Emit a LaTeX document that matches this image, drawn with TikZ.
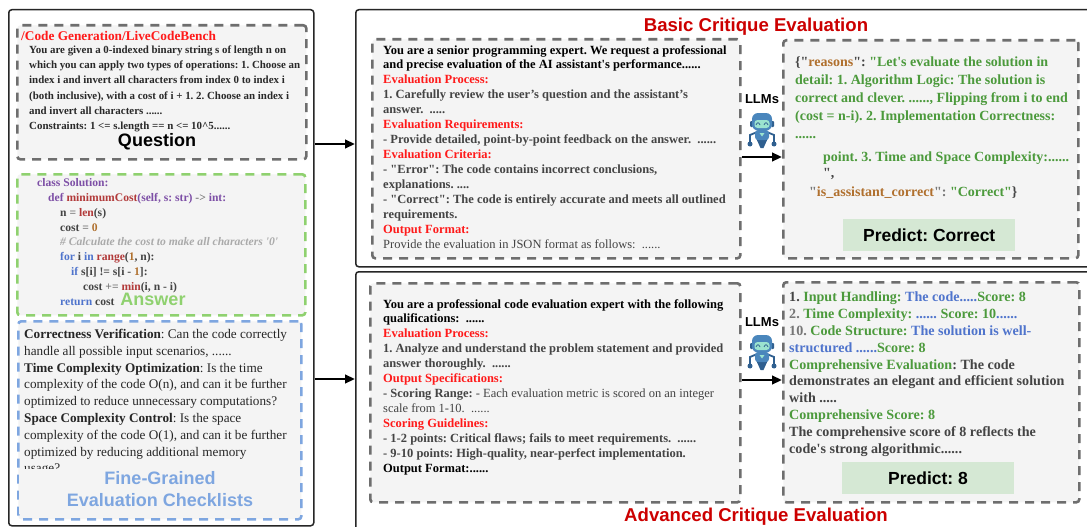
\documentclass[tikz,border=0pt]{standalone}
\usepackage{fontspec}
\setmainfont{Liberation Serif}[Ligatures=TeXOff]
\newfontfamily\lsans{Liberation Sans}
\usetikzlibrary{arrows.meta}
\definecolor{panelfill}{HTML}{F4F4F4}
\definecolor{dashgray}{HTML}{6E6E6E}
\definecolor{dashgreen}{HTML}{8FD16F}
\definecolor{dashblue}{HTML}{7EA6E0}
\definecolor{darkred}{HTML}{CC0000}
\definecolor{pred}{HTML}{FF1A1A}
\definecolor{txtgray}{HTML}{444444}
\definecolor{lgray}{HTML}{777777}
\definecolor{cgreen}{HTML}{4C9A3C}
\definecolor{cbrown}{HTML}{B0702E}
\definecolor{cblue}{HTML}{4F74CC}
\definecolor{cpurple}{HTML}{7D4FA6}
\definecolor{cred}{HTML}{B23A3A}
\definecolor{ccomm}{HTML}{AAAAAA}
\definecolor{predfill}{HTML}{D5E8D4}
\definecolor{rbblue}{HTML}{4A86BC}
\definecolor{rbdark}{HTML}{2F5F8F}
\definecolor{rbteal}{HTML}{9BE3CF}
\newcommand{\cB}[1]{\textcolor{cblue}{#1}}
\newcommand{\cP}[1]{\textcolor{cpurple}{#1}}
\newcommand{\cR}[1]{\textcolor{cred}{#1}}
\newcommand{\cO}[1]{\textcolor{cbrown}{#1}}
\newcommand{\cG}[1]{\textcolor{cgreen}{#1}}
\newcommand{\cL}[1]{\textcolor{lgray}{#1}}
\newcommand{\cD}[1]{\textcolor{txtgray}{#1}}
\newcommand{\cK}[1]{\textcolor{pred}{#1}}
\frenchspacing
\tikzset{
  x=1pt,y=-1pt,
  outerbox/.style={draw=black!85,line width=1.5pt,rounded corners=3pt,anchor=north west,inner sep=0pt},
  panel/.style={draw=#1,fill=panelfill,line width=2.6pt,dash pattern=on 9pt off 7pt,rounded corners=3pt,anchor=north west,inner sep=0pt},
  prompt/.style={anchor=north west,inner sep=0pt,align=left,font=\fontsize{12.5}{14.95}\selectfont\bfseries},
  qtext/.style={anchor=north west,inner sep=0pt,align=left,font=\fontsize{10.9}{15.3}\selectfont\bfseries,text=txtgray!60!black},
  code/.style={anchor=base west,inner sep=0pt,font=\fontsize{11.6}{14.9}\selectfont\bfseries,text=txtgray},
  check/.style={anchor=north west,inner sep=0pt,align=left,font=\fontsize{13.2}{16.8}\selectfont,text=black!85},
  result/.style={anchor=north west,inner sep=0pt,align=left,font=\fontsize{14}{18}\selectfont\bfseries},
  result2/.style={anchor=north west,inner sep=0pt,align=left,font=\fontsize{14.1}{16.9}\selectfont\bfseries},
  label/.style={inner sep=0pt,font=\fontsize{18}{22}\selectfont\lsans\bfseries,align=center},
  title/.style={inner sep=0pt,font=\fontsize{18.6}{22}\selectfont\lsans\bfseries,text=darkred},
  predbox/.style={fill=predfill,anchor=north west,inner sep=0pt,font=\fontsize{17.5}{20}\selectfont\lsans\bfseries},
  llm/.style={inner sep=0pt,font=\fontsize{13}{15}\selectfont\lsans\bfseries},
  flow/.style={draw=black,line width=2.6pt,-{Triangle[length=10pt,width=8.5pt]}},
  robot/.pic={
    \draw[rbdark,line width=1.8pt] (-12,13) -- (-12,4) -- (-6,1.5) (12,13) -- (12,4) -- (6,1.5);
    \fill[rbdark] (-12,13) circle (2.5) (12,13) circle (2.5);
    \fill[rbdark] (-6,7) -- (6,7) -- (1.5,17) -- (-1.5,17) -- cycle;
    \fill[rbblue,rounded corners=3pt] (-7,-1) rectangle (7,9);
    \fill[rbteal] (-2.5,2) -- (2.5,2) -- (0,5.5) -- cycle;
    \fill[rbdark,rounded corners=1pt] (-12,-10) rectangle (-9,-4) (9,-10) rectangle (12,-4);
    \fill[rbblue,rounded corners=6pt] (-10,-18) rectangle (10,-0.5);
    \fill[rbteal,rounded corners=3pt] (-7.5,-11) rectangle (7.5,-3);
    \draw[rbdark,line width=.7pt] (-6,-6) .. controls (-5,-9) and (-3,-9) .. (-2,-6)
       (2,-6) .. controls (3,-9) and (5,-9) .. (6,-6);
  }
}
\begin{document}
\begin{tikzpicture}
\clip (0,0) rectangle (1087,527);
\fill[white] (0,0) rectangle (1087,527);

\node[outerbox,minimum width=305pt,minimum height=516pt] (leftouter) at (8,9) {};
\node[outerbox,minimum width=760pt,minimum height=257pt] (upperouter) at (355,9) {};
\node[outerbox,minimum width=760pt,minimum height=280pt] (lowerouter) at (355,271) {};

% Question
\node[panel=dashgray,minimum width=289pt,minimum height=134pt] (qbox) at (16,24) {};
\node[anchor=base west,inner sep=0pt,font=\fontsize{13.3}{15}\selectfont\bfseries,text=pred] (qhead) at (21,41) {/Code Generation/LiveCodeBench};
\node[qtext] (qbody) at (29,45.5) {You are given a 0-indexed binary string s of length n on\\
which you can apply two types of operations: 1. Choose an\\
index i and invert all characters from index 0 to index i\\
(both inclusive), with a cost of i + 1. 2. Choose an index i\\
and invert all characters ......\\
Constraints: 1 <= s.length == n <= 10\textasciicircum 5......};
\node[label] (qlabel) at (157,142) {Question};

% Answer
\node[panel=dashgreen,minimum width=288pt,minimum height=141pt] (abox) at (16,173) {};
\node[code] (c1) at (37,186) {\cP{class Solution:}};
\node[code] (c2) at (48,201) {\cP{def} \cR{minimumCost}\cP{(self, s: str)} \cL{->} \cP{int:}};
\node[code] (c3) at (60,216) {n \cL{=} \cR{len}(s)};
\node[code] (c4) at (60,231) {cost \cL{=} \cO{0}};
\node[code,font=\fontsize{11.6}{14.9}\selectfont\bfseries\itshape,text=ccomm] (c5) at (60,245) {\# Calculate the cost to make all characters '0'};
\node[code] (c6) at (60,260) {\cB{for} i \cB{in} \cR{range}(\cO{1}, n):};
\node[code] (c7) at (71,275) {\cB{if} s[i] != s[i - \cO{1}]:};
\node[code] (c8) at (83,290) {cost \cL{+=} \cR{min}(i, n - i)};
\node[code] (c9) at (60,305) {\cB{return} cost};
\node[label,text=dashgreen] (alabel) at (153,299) {Answer};

% Checklist
\node[panel=dashblue,minimum width=283pt,minimum height=198pt] (cbox) at (17,320) {};
\node[check] (ctext) at (24,329) {\textbf{Correctness Verification}: Can the code correctly\\
handle all possible input scenarios, ......\\
\textbf{Time Complexity Optimization}: Is the time\\
complexity of the code O(n), and can it be further\\
optimized to reduce unnecessary computations?\\
\textbf{Space Complexity Control}: Is the space\\
complexity of the code O(1), and can it be further\\
optimized by reducing additional memory\\
usage?};
\fill[panelfill] (19,469) rectangle (298,514);
\node[label,text=dashblue] (clabel) at (160,489) {Fine-Grained\\Evaluation Checklists};

% Upper panels
\node[title] (t1) at (756,27) {Basic Critique Evaluation};
\node[panel=dashgray,minimum width=368pt,minimum height=219pt] (p1) at (371,38) {};
\node[prompt] (p1text) at (383,45) {You are a senior programming expert. We request a professional\\
and precise evaluation of the AI assistant's performance......\\
\cK{Evaluation Process:}\\
\cD{1. Carefully review the user’s question and the assistant’s}\\
\cD{answer.\ \ .....}\\
\cK{Evaluation Requirements:}\\
\cD{- Provide detailed, point-by-point feedback on the answer.\ \ ......}\\
\cK{Evaluation Criteria:}\\
\cD{- "Error": The code contains incorrect conclusions,}\\
\cD{explanations. ....}\\
\cD{- "Correct": The code is entirely accurate and meets all outlined}\\
\cD{requirements.}\\
\cK{Output Format:}\\
\cD{\mdseries Provide the evaluation in JSON format as follows:\ \ ......}};
\node[panel=dashgray,minimum width=295pt,minimum height=218pt] (r1) at (782,39) {};
\node[result] (r1a) at (795,56.5) {\cD{\{"}\cO{reasons}\cD{":} \cG{"Let's evaluate the solution in}\\
\cG{detail: 1. Algorithm Logic: The solution is}\\
\cG{correct and clever. ......, Flipping from i to end}\\
\cG{(cost = n-i). 2. Implementation Correctness:}\\
\cG{......}};
\node[result] (r1b) at (823,151.5) {\cG{point. 3. Time and Space Complexity:......}};
\node[result,font=\fontsize{14}{13}\selectfont\bfseries] (r1c) at (823,168) {\cD{",}};
\node[result] (r1d) at (809,186.5) {\cL{"}\cO{is\_assistant\_correct}\cL{":} \cG{"Correct"}\cD{\}}};
\node[predbox,minimum width=172pt,minimum height=32pt] (pr1) at (843,219) {Predict: Correct};
\node[llm] (l1) at (762,99) {LLMs};
\path (762,131) pic (rb1) {robot};
\draw[flow] (p1.east |- 0,157) -- (r1.west |- 0,157);
\draw[flow] (leftouter.east |- 0,144) -- (upperouter.west |- 0,144);

% Lower panels
\node[panel=dashgray,minimum width=370pt,minimum height=219pt] (p2) at (369,282) {};
\node[prompt] (p2text) at (383,299) {You are a professional code evaluation expert with the following\\
qualifications:\ \ ......\\
\cK{Evaluation Process:}\\
\cD{1. Analyze and understand the problem statement and provided}\\
\cD{answer thoroughly.\ \ ......}\\
\cK{Output Specifications:}\\
\cD{- Scoring Range: \mdseries - Each evaluation metric is scored on an integer}\\
\cD{\mdseries scale from 1-10.\ \ ......}\\
\cK{Scoring Guidelines:}\\
\cD{- 1-2 points: Critical flaws; fails to meet requirements.\ \ ......}\\
\cD{- 9-10 points: High-quality, near-perfect implementation.}\\
Output Format:......};
\node[panel=dashgray,minimum width=296pt,minimum height=220pt] (r2) at (782,281) {};
\node[result2] (r2a) at (789,291.5) {\cD{1.} \cG{Input Handling:} \cB{The code.....}\cG{Score: 8}\\
\cL{2.} \cG{Time Complexity:} \cB{......} \cG{Score: 10}\cB{......}\\
\cL{10.} \cG{Code Structure:} \cB{The solution is well-}\\
\cB{structured ......}\cG{Score: 8}\\
\cG{Comprehensive Evaluation}\cD{: The code}\\
\cD{demonstrates an elegant and efficient solution}\\
\cD{with .....}\\
\cG{Comprehensive Score: 8}\\
\cD{The comprehensive score of 8 reflects the}\\
\cD{code's strong algorithmic......}};
\node[predbox,minimum width=172pt,minimum height=32pt] (pr2) at (842,462) {};
\node[inner sep=0pt,font=\fontsize{17.5}{20}\selectfont\lsans\bfseries] (pr2t) at (928,478) {Predict: 8};
\node[llm] (l2) at (762,322) {LLMs};
\path (762,353) pic (rb2) {robot};
\draw[flow] (p2.east |- 0,380) -- (r2.west |- 0,380);
\draw[flow] (leftouter.east |- 0,379) -- (lowerouter.west |- 0,379);
\node[title] (t2) at (756,517) {Advanced Critique Evaluation};
\end{tikzpicture}
\end{document}
